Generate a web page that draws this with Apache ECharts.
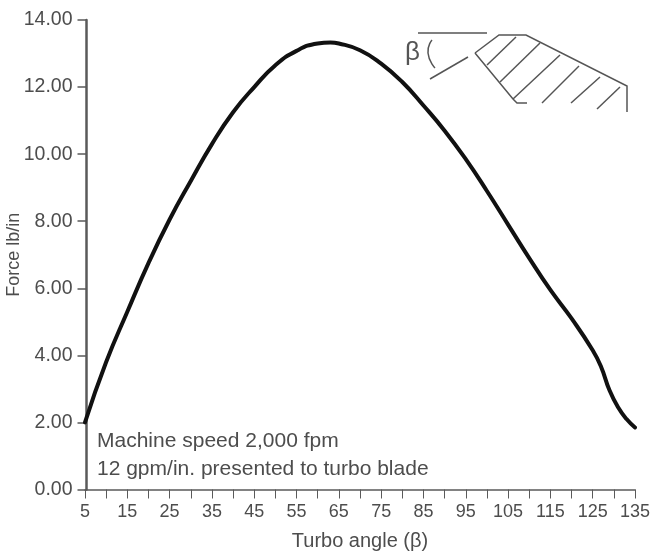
<!DOCTYPE html>
<html><head><meta charset="utf-8"><style>html,body{margin:0;background:#fff}#c{width:653px;height:552px}</style>
<script src="https://cdn.jsdelivr.net/npm/echarts@6/dist/echarts.min.js"></script></head>
<body><div id="c"></div><script>
const angles=[5,10,15,20,25,30,35,40,45,50,55,60,63,65,70,75,80,85,90,95,100,105,110,115,120,125,127,129,131,133,135];
const force=[2.0,3.8,5.3,6.75,8.05,9.2,10.3,11.25,12.0,12.65,13.08,13.3,13.33,13.3,13.1,12.7,12.15,11.45,10.7,9.85,8.9,7.9,6.9,5.95,5.1,4.15,3.65,2.95,2.45,2.1,1.85];
const note1='Machine speed 2,000 fpm', note2='12 gpm/in. presented to turbo blade';
const xTitle='Turbo angle (β)', yTitle='Force lb/in';
const grey='#5a5a5a', tc='#4d4d4d', ff='Liberation Sans';
const sketch=[
 [[418,33],[487,33]],
 [[430,79],[468,57]],
 [[475,53],[499,35],[526,35],[627,86],[627,112]],
 [[475,53],[513,99],[517,103],[527,103]],
 [[487,65],[516,37]],[[500,82],[540,43]],[[513,99],[560,55]],[[542,103],[579,66]],[[571,103],[600,77]],[[597,109],[620,87]]
];
const arcMark=[[432,40],[428,53],[435,68]];
const chart=echarts.init(document.getElementById('c'),null,{renderer:'canvas'});
chart.setOption({
 animation:false,
 grid:{left:85,right:18,top:20,bottom:62.5,outerBoundsMode:'none'},
 xAxis:{type:'value',min:5,max:135,interval:5,name:xTitle,nameLocation:'middle',nameGap:42,
  nameTextStyle:{color:tc,fontFamily:ff,fontSize:20},
  axisLine:{onZero:false,lineStyle:{color:grey,width:1.5}},
  axisTick:{length:9,lineStyle:{color:grey,width:1}},
  axisLabel:{color:tc,fontFamily:ff,fontSize:18,margin:14,showMinLabel:true,showMaxLabel:true,hideOverlap:false,formatter:v=>(v-5)%10===0?String(v):''},
  splitLine:{show:false}},
 yAxis:{type:'value',min:0,max:14,interval:2,offset:-1.5,name:yTitle,nameLocation:'middle',nameGap:63,nameMoveOverlap:false,
  nameTextStyle:{color:tc,fontFamily:ff,fontSize:18},
  axisLine:{show:true,onZero:false,lineStyle:{color:grey,width:2.5}},
  axisTick:{show:true,length:9,lineStyle:{color:grey,width:1.5}},
  axisLabel:{color:tc,fontFamily:ff,fontSize:19.5,margin:14,formatter:v=>v.toFixed(2)},
  splitLine:{show:false}},
 series:[{type:'line',data:angles.map((a,i)=>[a,force[i]]),smooth:0.5,showSymbol:false,
  lineStyle:{color:'#111',width:4,cap:'round'}}],
 graphic:[
  {type:'text',left:97,top:431,style:{text:note1,fill:tc,font:'21px "Liberation Sans"'}},
  {type:'text',left:97,top:459,style:{text:note2,fill:tc,font:'21px "Liberation Sans"'}},
  {type:'text',left:405,top:40,style:{text:'β',fill:'#555',font:'26px "Liberation Sans"'}},
  {type:'polyline',shape:{points:arcMark,smooth:0.6},style:{stroke:'#555',lineWidth:1.5,fill:null}},
  ...sketch.map(p=>({type:'polyline',shape:{points:p},style:{stroke:'#555',lineWidth:1.5,fill:null}}))
 ]
});
</script></body></html>
